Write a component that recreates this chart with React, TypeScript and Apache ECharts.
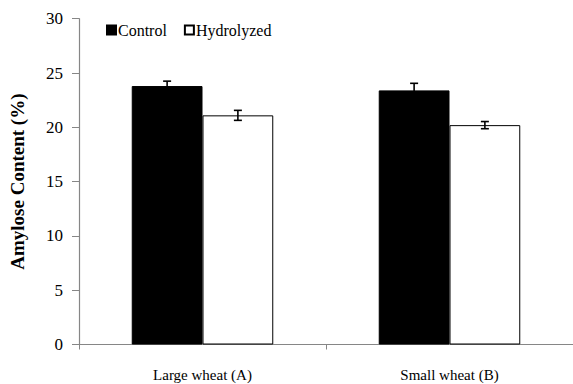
import React, { useEffect, useRef } from "react";
import * as echarts from "echarts";

const categories = ["Large wheat (A)", "Small wheat (B)"];
const controlValues = [23.8, 23.4];
const controlErrors = [0.45, 0.65];
const hydrolyzedValues = [21.1, 20.2];
const hydrolyzedErrors = [0.46, 0.33];
const yTicks = { min: 0, max: 30, interval: 5 };

const FONT = "Liberation Serif";
const BAR_FRAC = 0.2865;

function errorSeries(values: number[], errors: number[], side: number) {
  return {
    type: "custom",
    silent: true,
    z: 5,
    data: values.map((v, i) => [i, v, errors[i]]),
    encode: { x: 0, y: 1 },
    renderItem: (params: any, api: any) => {
      const idx = api.value(0);
      const v = api.value(1);
      const e = api.value(2);
      const band = api.size([1, 0])[0];
      const c = api.coord([idx, v]);
      const x = c[0] + (side * band * BAR_FRAC) / 2;
      const top = api.coord([idx, v + e])[1];
      const bot = api.coord([idx, v - e])[1];
      const hw = 4;
      const style = { stroke: "#000", lineWidth: 1.6 };
      return {
        type: "group",
        children: [
          { type: "line", shape: { x1: x, y1: top, x2: x, y2: bot }, style },
          { type: "line", shape: { x1: x - hw, y1: top, x2: x + hw, y2: top }, style },
          { type: "line", shape: { x1: x - hw, y1: bot, x2: x + hw, y2: bot }, style },
        ],
      };
    },
  };
}

export default function App() {
  const ref = useRef<HTMLDivElement>(null);
  useEffect(() => {
    if (!ref.current) return;
    document.body.style.margin = "0";
    const chart = echarts.init(ref.current, null, { renderer: "svg" });
    chart.setOption({
      animation: false,
      backgroundColor: "#fff",
      textStyle: { fontFamily: FONT },
      legend: {
        left: 101,
        top: 17,
        icon: "rect",
        itemWidth: 9,
        itemHeight: 9,
        itemGap: 17,
        data: ["Control", "Hydrolyzed"],
        textStyle: { fontFamily: FONT, fontSize: 16, color: "#000", padding: [0, 0, 0, -3] },
      },
      grid: { left: 71, top: 18.7, width: 513, height: 325.8, containLabel: false },
      xAxis: {
        type: "category",
        data: categories,
        axisLine: { lineStyle: { color: "#868686", width: 1.2 } },
        axisTick: { show: true, length: 5, lineStyle: { color: "#868686" } },
        axisLabel: { fontFamily: FONT, fontSize: 15, color: "#000", margin: 23 },
        splitLine: { show: false },
      },
      yAxis: {
        type: "value",
        min: yTicks.min,
        max: yTicks.max,
        interval: yTicks.interval,
        name: "Amylose Content (%)",
        nameLocation: "middle",
        nameRotate: 90,
        nameGap: 52,
        nameTextStyle: { fontFamily: FONT, fontSize: 19, fontWeight: "bold", color: "#000" },
        axisLine: { show: true, lineStyle: { color: "#868686", width: 1.2 } },
        axisTick: { show: true, inside: false, length: 7, lineStyle: { color: "#868686" } },
        axisLabel: { fontFamily: FONT, fontSize: 17, color: "#000", margin: 16 },
        splitLine: { show: false },
      },
      series: [
        {
          name: "Control",
          type: "bar",
          data: controlValues,
          barWidth: (BAR_FRAC * 100).toFixed(2) + "%",
          barGap: "0%",
          itemStyle: { color: "#000", borderColor: "#000", borderWidth: 1 },
        },
        {
          name: "Hydrolyzed",
          type: "bar",
          data: hydrolyzedValues,
          barWidth: (BAR_FRAC * 100).toFixed(2) + "%",
          barGap: "0%",
          itemStyle: { color: "#fff", borderColor: "#000", borderWidth: 1 },
        },
        errorSeries(controlValues, controlErrors, -1),
        errorSeries(hydrolyzedValues, hydrolyzedErrors, 1),
      ],
    });
    return () => chart.dispose();
  }, []);
  return <div ref={ref} style={{ width: 573, height: 384 }} />;
}
